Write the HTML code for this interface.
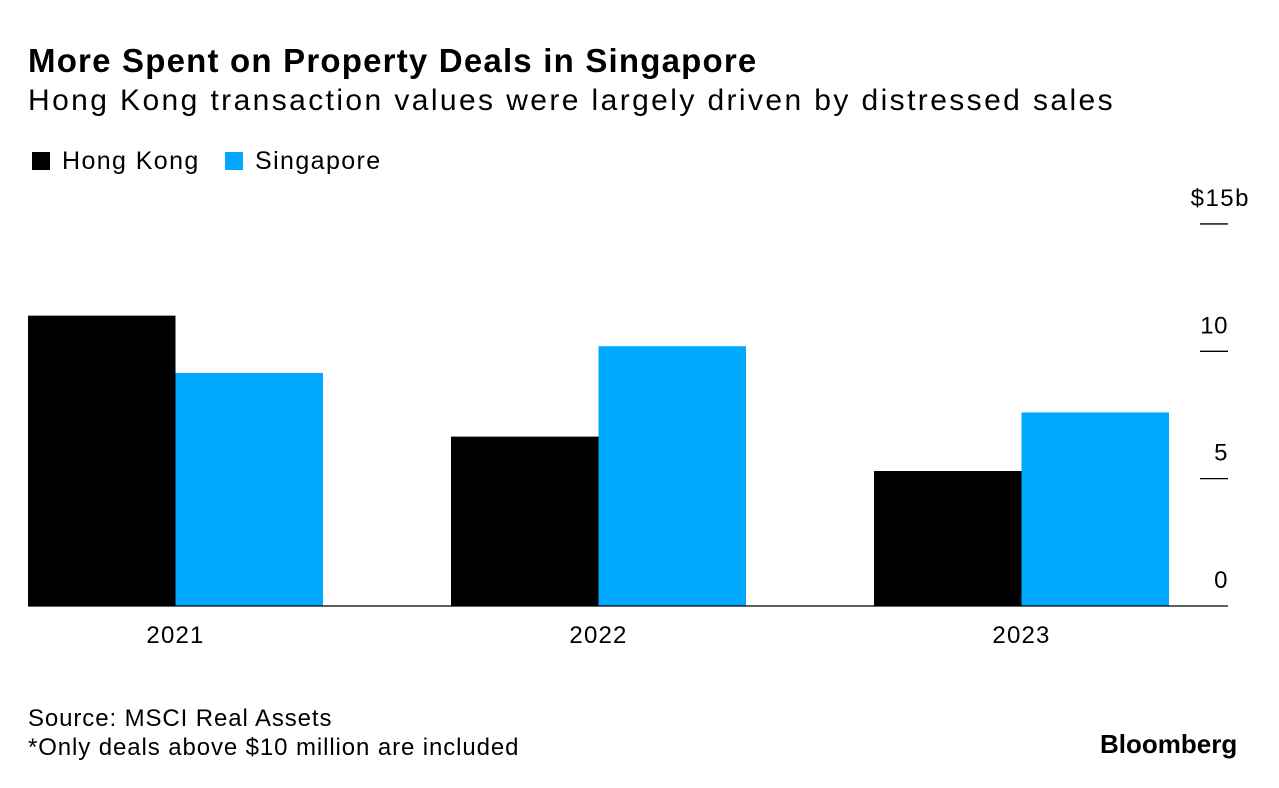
<!DOCTYPE html>
<html><head><meta charset="utf-8"><style>
body{margin:0;width:1279px;height:788px;background:#fff;font-family:"Liberation Sans",sans-serif;color:#000;overflow:hidden;position:relative}
.t{position:absolute;white-space:nowrap}
</style></head><body>
<div class="t" style="left:28px;top:42px;font-size:33px;font-weight:bold;letter-spacing:1.2px">More Spent on Property Deals in Singapore</div>
<div class="t" style="left:28px;top:84px;font-size:30px;letter-spacing:2.4px">Hong Kong transaction values were largely driven by distressed sales</div>
<div class="t" style="left:32px;top:147px;font-size:25px;letter-spacing:1.4px"><span style="display:inline-block;width:18px;height:18px;background:#000;vertical-align:-1px;margin-right:12px"></span>Hong Kong</div>
<div class="t" style="left:225px;top:147px;font-size:25px;letter-spacing:1.4px"><span style="display:inline-block;width:18px;height:18px;background:#00a9ff;vertical-align:-1px;margin-right:12px"></span>Singapore</div>
<svg id="chart" width="1279" height="788" style="position:absolute;left:0;top:0"></svg>
<div class="t" style="left:28px;top:705px;font-size:24px;letter-spacing:0.9px">Source: MSCI Real Assets</div>
<div class="t" style="left:28px;top:734px;font-size:24px;letter-spacing:0.9px">*Only deals above $10 million are included</div>
<div class="t" style="left:1100px;top:729px;font-size:26px;font-weight:bold;letter-spacing:0px">Bloomberg</div>
<script>
const categories=["2021","2022","2023"];
const hongKong=[11.4,6.65,5.3];
const singapore=[9.15,10.2,7.6];
const yTicks=[0,5,10,15];
const yTickLabels=["0","5","10","$15b"];
const NS="http://www.w3.org/2000/svg";
const svg=document.getElementById('chart');
const y0=606,pxPerUnit=25.47;
function y(v){return y0-v*pxPerUnit;}
function xCenter(i){return 175.5+i*423;}
const bw=147.5;
function add(tag,attrs,text){const e=document.createElementNS(NS,tag);for(const k in attrs)e.setAttribute(k,attrs[k]);if(text!==undefined)e.textContent=text;svg.appendChild(e);return e;}
categories.forEach((c,i)=>{
  const cx=xCenter(i);
  let b=add('rect',{x:cx-bw,y:y(hongKong[i]),width:bw,height:y0-y(hongKong[i]),fill:'#000'});
  
  
  b=add('rect',{x:cx,y:y(singapore[i]),width:bw,height:y0-y(singapore[i]),fill:'#00a9ff'});
  
  
  const t=add('text',{x:cx,y:y0+37,'text-anchor':'middle','font-size':'24','letter-spacing':'1.2','font-family':'Liberation Sans, sans-serif'},c);
  
  
});
yTicks.forEach((v,i)=>{
  if(v>0){const l=add('line',{x1:1200,x2:1228,y1:y(v),y2:y(v),stroke:'#000','stroke-width':1.3});
  
  }
  const isTop=i===yTicks.length-1;
  const t=add('text',{x:isTop?1250:1228,y:y(v)-18,'text-anchor':'end','font-size':'24','letter-spacing':isTop?'1.5':'0.5','font-family':'Liberation Sans, sans-serif'},yTickLabels[i]);
  
  
});
const ax=add('line',{x1:28,x2:1228,y1:y0,y2:y0,stroke:'#000','stroke-width':1.3});


</script>
</body></html>
